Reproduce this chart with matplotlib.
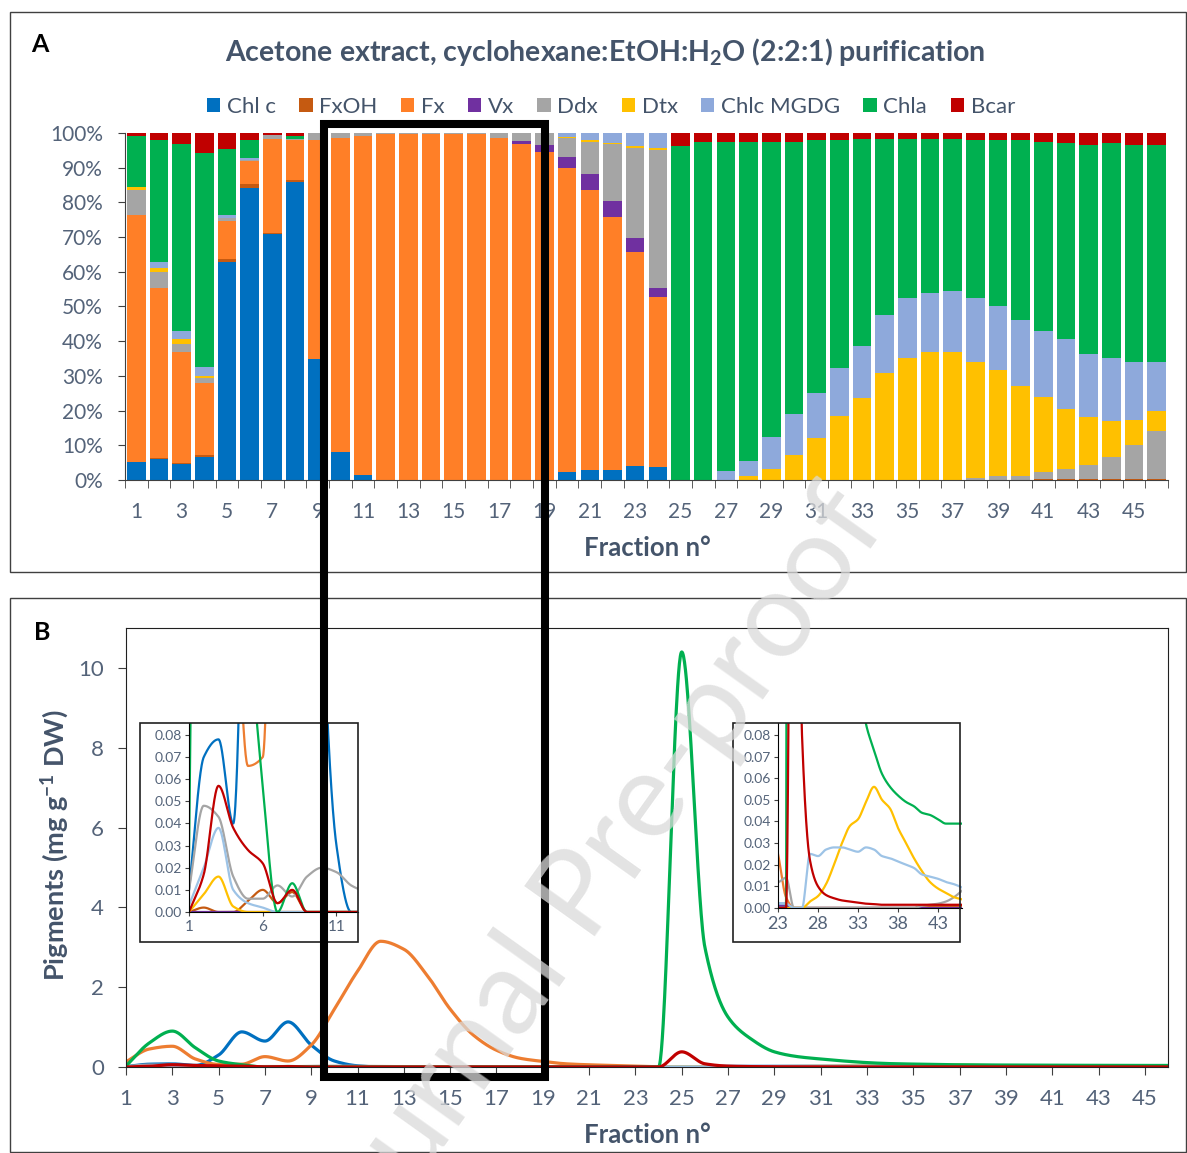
import numpy as np
import matplotlib.pyplot as plt
from matplotlib.patches import Rectangle, Patch

plt.rcParams['font.family'] = ['Lato', 'DejaVu Sans']

# ---- panel A: composition (% of total) per fraction ----
fractions = list(range(1, 47))
pigments = ['Chl c', 'FxOH', 'Fx', 'Vx', 'Ddx', 'Dtx', 'Chlc MGDG', 'Chla', 'Bcar']
colors_a = ['#0070C0', '#C55A11', '#FF7F27', '#7030A0', '#A5A5A5', '#FFC000', '#8EA9DB', '#00B050', '#C00000']

chlc_pct = [5.1, 6.0, 4.6, 6.7, 62.9, 84.1, 70.8, 85.8, 34.9, 8.1, 1.5, 0, 0, 0, 0, 0, 0, 0, 0, 2.4, 2.8, 2.8, 3.9, 3.7,
            0, 0, 0, 0, 0, 0, 0, 0, 0, 0, 0, 0, 0, 0, 0, 0, 0, 0, 0, 0, 0, 0]
fxoh_pct = [0.2, 0.4, 0.3, 0.4, 0.7, 1.1, 0.4, 0.7, 0, 0, 0, 0, 0, 0, 0, 0, 0, 0, 0, 0, 0, 0, 0, 0,
            0, 0, 0, 0, 0, 0, 0, 0, 0, 0, 0, 0, 0, 0, 0, 0, 0.3, 0.3, 0.3, 0.3, 0.3, 0.3]
fx_pct = [71.1, 48.8, 32.0, 20.9, 11.1, 6.7, 27.1, 11.4, 63.0, 90.6, 97.5, 99.7, 99.7, 99.7, 99.7, 99.7, 98.7, 96.7,
          94.6, 87.4, 80.8, 73.1, 61.8, 48.9, 0, 0, 0, 0, 0, 0, 0, 0, 0, 0, 0, 0, 0, 0, 0, 0, 0, 0, 0, 0, 0, 0]
vx_pct = [0, 0, 0, 0, 0, 0, 0, 0, 0, 0, 0, 0, 0, 0, 0, 0, 0, 1.0, 1.9, 3.2, 4.5, 4.5, 4.1, 2.6,
          0, 0, 0, 0, 0, 0, 0, 0, 0, 0, 0, 0, 0, 0, 0, 0, 0, 0, 0, 0, 0, 0]
ddx_pct = [7.2, 4.8, 2.4, 1.3, 0.9, 0.3, 1.2, 0.4, 2.1, 1.3, 1.0, 0.3, 0.3, 0.3, 0.3, 0.3, 1.3, 2.3, 3.5, 5.5, 9.4,
           16.3, 25.8, 39.8, 0, 0, 0, 0, 0, 0, 0, 0, 0, 0, 0, 0, 0, 0.7, 1.1, 1.1, 1.9, 2.9, 4.0, 6.4, 9.8, 13.8]
dtx_pct = [0.8, 1.2, 1.2, 0.7, 0, 0, 0, 0, 0, 0, 0, 0, 0, 0, 0, 0, 0, 0, 0, 0.3, 0.4, 0.4, 0.6, 0.7,
           0, 0, 0, 1.2, 3.3, 7.2, 12.1, 18.3, 23.5, 30.8, 35.3, 36.9, 36.9, 33.3, 30.5, 26.0, 21.7, 17.4, 13.9,
           10.3, 7.3, 5.8]
mgdg_pct = [0.1, 1.7, 2.5, 2.5, 0.8, 0.5, 0, 0, 0, 0, 0, 0, 0, 0, 0, 0, 0, 0, 0, 1.2, 2.1, 2.9, 3.8, 4.3,
            0, 0, 2.7, 4.4, 9.2, 11.7, 13.1, 14.1, 15.0, 16.7, 17.1, 17.1, 17.5, 18.4, 18.6, 19.1, 19.0, 19.9,
            18.2, 18.3, 16.6, 14.1]
chla_pct = [14.7, 35.0, 53.7, 61.6, 19.0, 5.2, 0, 0.8, 0, 0, 0, 0, 0, 0, 0, 0, 0, 0, 0, 0, 0, 0, 0, 0,
            96.3, 97.5, 94.8, 91.9, 85.0, 78.6, 72.7, 65.5, 59.8, 50.8, 45.9, 44.3, 43.9, 45.5, 47.7, 51.7,
            54.6, 56.5, 60.2, 61.7, 62.6, 62.6]
bcar_pct = [0.8, 2.1, 3.3, 5.9, 4.6, 2.1, 0.5, 0.9, 0, 0, 0, 0, 0, 0, 0, 0, 0, 0, 0, 0, 0, 0, 0, 0,
            3.7, 2.5, 2.5, 2.5, 2.5, 2.5, 2.1, 2.1, 1.7, 1.7, 1.7, 1.7, 1.7, 2.1, 2.1, 2.1, 2.5, 3.0, 3.4,
            3.0, 3.4, 3.4]

# ---- panel B: concentration (mg g-1 DW) per fraction ----
colors_b = ['#0070C0', '#C55A11', '#ED7D31', '#7030A0', '#A5A5A5', '#FFC000', '#9DC3E6', '#00B050', '#C00000']
chlc_b = [0.01, 0.07, 0.078, 0.04, 0.3, 0.88, 0.65, 1.13, 0.55, 0.15, 0.03, 0.0, 0, 0, 0, 0, 0, 0, 0,
          0.002, 0.002, 0.002, 0.002, 0.002, 0, 0, 0, 0, 0, 0, 0, 0, 0, 0, 0, 0, 0, 0, 0, 0, 0, 0, 0, 0, 0, 0]
fxoh_b = [0, 0.002, 0, 0, 0.005, 0.01, 0.004, 0.009, 0, 0, 0, 0, 0, 0, 0, 0, 0, 0, 0, 0, 0, 0, 0, 0,
          0, 0, 0, 0, 0, 0, 0, 0, 0, 0, 0, 0, 0, 0, 0, 0, 0.001, 0.001, 0.001, 0.001, 0.001, 0.001]
fx_b = [0.13, 0.45, 0.52, 0.2, 0.066, 0.07, 0.26, 0.15, 0.55, 1.45, 2.4, 3.15, 2.95, 2.3, 1.45, 0.8, 0.42, 0.22,
        0.14, 0.08, 0.055, 0.04, 0.025, 0.005, 0, 0, 0, 0, 0, 0, 0, 0, 0, 0, 0, 0, 0, 0, 0, 0, 0, 0, 0, 0, 0, 0]
vx_b = [0, 0, 0, 0, 0, 0, 0, 0, 0, 0, 0, 0, 0, 0, 0, 0, 0, 0.001, 0.001, 0.001, 0.001, 0.001, 0.001, 0.001,
        0, 0, 0, 0, 0, 0, 0, 0, 0, 0, 0, 0, 0, 0, 0, 0, 0, 0, 0, 0, 0, 0]
ddx_b = [0.01, 0.048, 0.043, 0.016, 0.006, 0.006, 0.012, 0.007, 0.016, 0.02, 0.018, 0.012, 0.009, 0.006, 0.005,
         0.005, 0.006, 0.007, 0.008, 0.009, 0.01, 0.012, 0.012, 0.014, 0, 0, 0, 0, 0, 0, 0, 0, 0, 0, 0, 0, 0,
         0, 0, 0, 0.001, 0.0015, 0.002, 0.003, 0.005, 0.008]
dtx_b = [0, 0.008, 0.016, 0.0025, 0, 0, 0, 0, 0, 0, 0, 0, 0, 0, 0, 0, 0, 0, 0, 0, 0, 0, 0, 0, 0, 0,
         0.003, 0.0055, 0.011, 0.02, 0.03, 0.038, 0.041, 0.049, 0.056, 0.05, 0.046, 0.037, 0.03, 0.023, 0.017,
         0.012, 0.009, 0.007, 0.005, 0.004]
mgdg_b = [0.003, 0.02, 0.038, 0.01, 0.004, 0.002, 0, 0, 0, 0, 0, 0, 0, 0, 0, 0, 0, 0, 0,
          0.002, 0.002, 0.002, 0.002, 0.002, 0, 0, 0.025, 0.024, 0.027, 0.028, 0.028, 0.027, 0.026, 0.028,
          0.027, 0.024, 0.023, 0.0215, 0.02, 0.0185, 0.0155, 0.0145, 0.0135, 0.012, 0.011, 0.0095]
chla_b = [0.025, 0.6, 0.9, 0.48, 0.15, 0.057, 0.0, 0.013, 0.0, 0, 0, 0, 0, 0, 0, 0, 0, 0, 0, 0, 0, 0, 0, 0,
          10.4, 3.0, 1.25, 0.7, 0.38, 0.26, 0.2, 0.15, 0.11, 0.085, 0.073, 0.062, 0.056, 0.052, 0.049, 0.047,
          0.044, 0.043, 0.041, 0.039, 0.039, 0.039]
bcar_b = [0.0, 0.017, 0.057, 0.038, 0.028, 0.022, 0.004, 0.01, 0.0, 0, 0, 0, 0, 0, 0, 0, 0, 0, 0, 0, 0, 0, 0, 0,
          0.38, 0.08, 0.022, 0.01, 0.006, 0.0045, 0.0035, 0.003, 0.0025, 0.002, 0.0018, 0.0015, 0.0015, 0.0015,
          0.0015, 0.0015, 0.0015, 0.0015, 0.0015, 0.0015, 0.0015, 0.0015]

TXT = '#44546A'
TICK = '#546379'
W, H = 1187, 1153


def box(l, t, r, b):
    return [l / W, 1 - b / H, (r - l) / W, (b - t) / H]


def pchip(x, y, xs):
    # monotone cubic so the smoothed lines never dip below zero
    x = np.asarray(x, float); y = np.asarray(y, float)
    h = np.diff(x); d = np.diff(y) / h
    m = np.zeros_like(y)
    for k in range(1, len(y) - 1):
        if d[k - 1] * d[k] > 0:
            w1 = 2 * h[k] + h[k - 1]; w2 = h[k] + 2 * h[k - 1]
            m[k] = (w1 + w2) / (w1 / d[k - 1] + w2 / d[k])
    m[0], m[-1] = d[0], d[-1]
    i = np.clip(np.searchsorted(x, xs) - 1, 0, len(x) - 2)
    t = (xs - x[i]) / h[i]
    h00 = 2 * t**3 - 3 * t**2 + 1; h10 = t**3 - 2 * t**2 + t
    h01 = -2 * t**3 + 3 * t**2; h11 = t**3 - t**2
    return h00 * y[i] + h10 * h[i] * m[i] + h01 * y[i + 1] + h11 * h[i] * m[i + 1]


fig = plt.figure(figsize=(W / 100, H / 100), dpi=100)

# ---------------- panel A ----------------
ax = fig.add_axes(box(125, 133, 1168, 480))
series_a = [chlc_pct, fxoh_pct, fx_pct, vx_pct, ddx_pct, dtx_pct, mgdg_pct, chla_pct, bcar_pct]
bottom = np.zeros(len(fractions))
for vals, col, name in zip(series_a, colors_a, pigments):
    ax.bar(fractions, vals, bottom=bottom, width=0.82, color=col, label=name, linewidth=0)
    bottom += np.array(vals)
ax.set_xlim(0.5, 46.5)
ax.set_ylim(0, 100)
ax.set_yticks(range(0, 101, 10))
ax.set_yticklabels([f'{v}%' for v in range(0, 101, 10)])
ax.set_xticks(range(1, 46, 2))
ax.set_xticks(np.arange(0.5, 47, 1), minor=True)
ax.tick_params(axis='x', which='major', length=0, pad=16, labelsize=15, labelcolor=TICK)
ax.tick_params(axis='x', which='minor', length=6, color='#404040')
ax.tick_params(axis='y', length=5, color='#404040', labelsize=15, labelcolor=TICK, pad=11)
for s in ['top', 'right']:
    ax.spines[s].set_visible(False)
ax.spines['left'].set_color('#404040')
ax.spines['bottom'].set_color('#404040')

fig.text(605 / W, 1 - 52 / H, 'Acetone extract, cyclohexane:EtOH:H$_\\mathregular{2}$O (2:2:1) purification',
         ha='center', va='center', fontsize=20.5, fontweight='bold', color=TXT)
handles = [Patch(facecolor=c, edgecolor='none') for c in colors_a]
fig.legend(handles, pigments, loc='center', bbox_to_anchor=(611 / W, 1 - 107 / H), ncol=9, frameon=False,
           fontsize=16, handlelength=0.6, handleheight=0.6, handletextpad=0.3, columnspacing=1.05,
           labelcolor=TXT)
fig.text(647 / W, 1 - 548 / H, 'Fraction n°', ha='center', va='center', fontsize=18.5, fontweight='bold', color=TXT)

# ---------------- panel B ----------------
series_b = [chlc_b, fxoh_b, fx_b, vx_b, ddx_b, dtx_b, mgdg_b, chla_b, bcar_b]
xs = np.linspace(1, 46, 2251)

axb = fig.add_axes(box(126, 628, 1168, 1067))
for vals, col in zip(series_b, colors_b):
    axb.plot(xs, pchip(fractions, vals, xs), color=col, lw=2.3, solid_capstyle='round')
axb.set_xlim(1, 46)
axb.set_ylim(0, 11)
axb.set_xticks(range(1, 46, 2))
axb.set_yticks(range(0, 11, 2))
axb.tick_params(axis='both', length=6, color='#404040', labelsize=16, labelcolor=TICK)
axb.tick_params(axis='x', pad=10)
axb.tick_params(axis='y', pad=10)
for s in axb.spines.values():
    s.set_color('#202020')
fig.text(647 / W, 1 - 1135 / H, 'Fraction n°', ha='center', va='center', fontsize=18.5, fontweight='bold', color=TXT)
fig.text(55 / W, 1 - 845 / H, 'Pigments (mg g$^{\\mathregular{-1}}$ DW)', ha='center', va='center', rotation=90,
         fontsize=19.5, fontweight='bold', color=TXT)

# insets
for (frame, area, xlim, xt, ylim, xsize) in [((140, 723, 358, 942), (189, 723, 358, 912), (1, 12.46),
                                              [1, 6, 11], (0, 0.0854), 11),
                                             ((733, 723, 960, 942), (778, 723, 962, 908), (23, 46),
                                              [23, 28, 33, 38, 43], (0, 0.0855), 13)]:
    ai = fig.add_axes(box(*area))
    for vals, col in zip(series_b, colors_b):
        ai.plot(xs, pchip(fractions, vals, xs), color=col, lw=1.6)
    ai.set_xlim(*xlim)
    ai.set_ylim(*ylim)
    ai.set_xticks(xt)
    ai.set_yticks(np.arange(0, 0.081, 0.01))
    ai.set_yticklabels([f'{v:.2f}' for v in np.arange(0, 0.081, 0.01)])
    ai.tick_params(axis='y', length=3, color='#404040', labelsize=10, labelcolor=TICK, pad=2)
    ai.tick_params(axis='x', length=3, color='#404040', labelsize=xsize, labelcolor=TICK, pad=3)
    ai.spines['top'].set_visible(False)
    ai.spines['right'].set_visible(False)
    ai.patch.set_alpha(0)
    fl, ft, fr, fb = frame
    fig.patches.append(Rectangle((fl / W, 1 - fb / H), (fr - fl) / W, (fb - ft) / H, transform=fig.transFigure,
                                 fill=False, edgecolor='#202020', lw=1.2, zorder=5))

# panel frames
for (l, t, r, b) in [(10, 12, 1186, 572), (10, 598, 1186, 1152)]:
    fig.patches.append(Rectangle((l / W, 1 - b / H), (r - l) / W, (b - t) / H, transform=fig.transFigure,
                                 fill=False, edgecolor='#404040', lw=1.0, zorder=1))
fig.text(40 / W, 1 - 45 / H, 'A', ha='center', va='center', fontsize=18, fontweight='bold', color='black')
fig.text(42 / W, 1 - 632 / H, 'B', ha='center', va='center', fontsize=18, fontweight='bold', color='black')

# highlight box over fractions 10-19
fig.patches.append(Rectangle((324 / W, 1 - 1077 / H), (545 - 324) / W, (1077 - 124) / H,
                             transform=fig.transFigure, fill=False, edgecolor='black', lw=5.8, zorder=20))

# watermark
fig.text(590 / W, 1 - 885 / H, 'Journal Pre-proof', ha='center', va='center', rotation=54.5, fontsize=87,
         color='#dadada', alpha=0.75, zorder=30)

fig.savefig('out.png', dpi=100)
